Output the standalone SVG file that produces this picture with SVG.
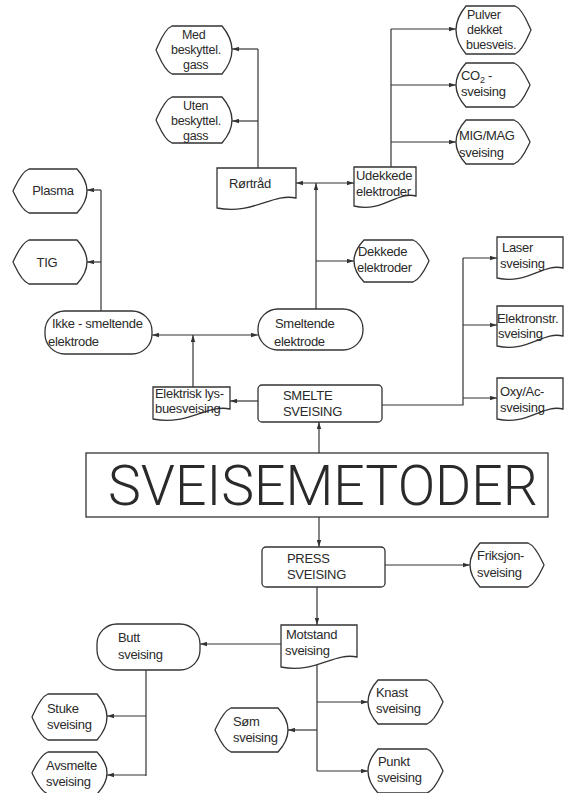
<svg xmlns="http://www.w3.org/2000/svg" width="568" height="793" viewBox="0 0 568 793">
<style>
.s{fill:#fff;stroke:#333;stroke-width:1.3}
.t{font-family:"Liberation Sans",Arial,sans-serif;font-size:13px;fill:#2a2a2a;letter-spacing:-0.3px}
.t3{font-family:"Liberation Sans",Arial,sans-serif;font-size:12.5px;fill:#2a2a2a;letter-spacing:-0.3px}
.c{fill:none;stroke:#333;stroke-width:1.2}
.big{font-family:Roboto,"Liberation Sans",sans-serif;font-weight:300;font-size:56px;fill:#2a2a2a}
</style>
<defs>
<marker id="ah" viewBox="0 0 7 5" refX="7" refY="2.5" markerWidth="7" markerHeight="5" markerUnits="userSpaceOnUse" orient="auto-start-reverse"><path d="M0,0.3 L7,2.5 L0,4.7 Z" fill="#333"/></marker>
</defs>
<rect width="568" height="793" fill="#fff"/>
<g id="connectors">
<path class="c" d="M258,168 V49"/>
<path class="c" d="M258,49 H232" marker-end="url(#ah)"/>
<path class="c" d="M258,121 H232" marker-end="url(#ah)"/>
<path class="c" d="M296,183 H354" marker-start="url(#ah)" marker-end="url(#ah)"/>
<path class="c" d="M316,309 V183" marker-end="url(#ah)"/>
<path class="c" d="M316,261 H354" marker-end="url(#ah)"/>
<path class="c" d="M391,167 V29"/>
<path class="c" d="M391,29 H456" marker-end="url(#ah)"/>
<path class="c" d="M391,85 H456" marker-end="url(#ah)"/>
<path class="c" d="M391,142 H456" marker-end="url(#ah)"/>
<path class="c" d="M101,311 V190"/>
<path class="c" d="M101,190 H87" marker-end="url(#ah)"/>
<path class="c" d="M101,262 H87" marker-end="url(#ah)"/>
<path class="c" d="M152,335 H258" marker-start="url(#ah)" marker-end="url(#ah)"/>
<path class="c" d="M193,387 V335" marker-end="url(#ah)"/>
<path class="c" d="M258,401 H230" marker-end="url(#ah)"/>
<path class="c" d="M319,453 V422" marker-end="url(#ah)"/>
<path class="c" d="M382,405 H463 V258"/>
<path class="c" d="M463,258 H497" marker-end="url(#ah)"/>
<path class="c" d="M463,325 H497" marker-end="url(#ah)"/>
<path class="c" d="M463,398 H497" marker-end="url(#ah)"/>
<path class="c" d="M319,517 V547" marker-end="url(#ah)"/>
<path class="c" d="M385,565 H470" marker-end="url(#ah)"/>
<path class="c" d="M317,587 V625" marker-end="url(#ah)"/>
<path class="c" d="M281,644 H200" marker-end="url(#ah)"/>
<path class="c" d="M146,670 V776"/>
<path class="c" d="M146,716 H107" marker-end="url(#ah)"/>
<path class="c" d="M146,775 H107" marker-end="url(#ah)"/>
<path class="c" d="M317,664 V771"/>
<path class="c" d="M317,702 H368" marker-end="url(#ah)"/>
<path class="c" d="M317,730 H288" marker-end="url(#ah)"/>
<path class="c" d="M317,771 H368" marker-end="url(#ah)"/>
</g>
<g id="med">
<path class="s" d="M172,26 H222 Q242,50 222,74 H172 C164,71 159,56 156,50 C159,44 164,29 172,26 Z"/>
<text class="t3" x="182" y="39">Med</text><text class="t3" x="171" y="54">beskyttel.</text><text class="t3" x="183" y="69">gass</text>
</g>
<g id="uten">
<path class="s" d="M172,97 H222 Q242,120 222,143 H172 C164,140 159,126 156,120 C159,114 164,100 172,97 Z"/>
<text class="t3" x="183" y="110">Uten</text><text class="t3" x="171" y="125">beskyttel.</text><text class="t3" x="183" y="140">gass</text>
</g>
<g id="rortrad">
<path class="s" d="M217,168 H296 V198 C272,193 253,215 217,208 Z"/>
<text class="t" x="229" y="188">Rørtråd</text>
</g>
<g id="udekkede">
<path class="s" d="M354,167 H416 V196 C397,191 382,213 354,206 Z"/>
<text class="t" x="356" y="180">Udekkede</text><text class="t" x="356" y="196">elektroder</text>
</g>
<g id="pulver">
<path class="s" d="M466,6 H515 C523,9 528,24 531,30 C528,36 523,51 515,54 H466 Q446,30 466,6 Z"/>
<text class="t3" x="467" y="19">Pulver</text><text class="t3" x="467" y="34">dekket</text><text class="t3" x="466" y="49">buesveis.</text>
</g>
<g id="co2">
<path class="s" d="M466,63 H514 C522,66 527,79 530,85 C527,91 522,104 514,107 H466 Q446,85 466,63 Z"/>
<text class="t" x="461" y="80">CO<tspan font-size="9" dy="3">2</tspan><tspan dy="-3"> -</tspan></text><text class="t" x="461" y="96">sveising</text>
</g>
<g id="mig">
<path class="s" d="M466,120 H514 C522,123 527,136 530,142 C527,148 522,161 514,164 H466 Q446,142 466,120 Z"/>
<text class="t" x="459" y="140">MIG/MAG</text><text class="t" x="459" y="157">sveising</text>
</g>
<g id="plasma">
<path class="s" d="M29,169 H77 Q97,191 77,213 H29 C21,210 16,197 13,191 C16,185 21,172 29,169 Z"/>
<text class="t" x="53" y="195" text-anchor="middle">Plasma</text>
</g>
<g id="tig">
<path class="s" d="M29,240 H77 Q97,262 77,284 H29 C21,281 16,268 13,262 C16,256 21,243 29,240 Z"/>
<text class="t" x="47" y="267" text-anchor="middle">TIG</text>
</g>
<g id="dekkede">
<path class="s" d="M364,240 H413 C421,243 426,255 429,261 C426,267 421,279 413,282 H364 Q344,261 364,240 Z"/>
<text class="t" x="358" y="256">Dekkede</text><text class="t" x="357" y="272">elektroder</text>
</g>
<g id="ikke">
<rect class="s" x="45" y="311" width="107" height="43" rx="20"/>
<text class="t" x="52" y="328">Ikke - smeltende</text><text class="t" x="48" y="346">elektrode</text>
</g>
<g id="smeltende">
<rect class="s" x="258" y="309" width="105" height="41" rx="20"/>
<text class="t" x="275" y="328">Smeltende</text><text class="t" x="274" y="346">elektrode</text>
</g>
<g id="laser">
<path class="s" d="M497,237 H563 V268 C543,263 527,285 497,278 Z"/>
<text class="t" x="502" y="252">Laser</text><text class="t" x="500" y="268">sveising</text>
</g>
<g id="elektronstr">
<path class="s" d="M497,306 H563 V336 C543,331 527,353 497,346 Z"/>
<text class="t" x="497" y="323">Elektronstr.</text><text class="t" x="498" y="338">sveising</text>
</g>
<g id="oxy">
<path class="s" d="M497,378 H563 V409 C543,404 527,426 497,419 Z"/>
<text class="t" x="500" y="396">Oxy/Ac-</text><text class="t" x="500" y="412">sveising</text>
</g>
<g id="smelte">
<rect class="s" x="258" y="385" width="124" height="37" rx="4"/>
<text class="t" x="283" y="400">SMELTE</text><text class="t" x="283" y="416">SVEISING</text>
</g>
<g id="elektrisk">
<path class="s" d="M153,387 H230 V409 C207,404 188,426 153,419 Z"/>
<text class="t" x="155" y="398">Elektrisk lys-</text><text class="t" x="155" y="413">buesveising</text>
</g>
<g id="sveisemetoder">
<rect class="s" x="86" y="453" width="462" height="64"/>
<text class="big" x="108" y="505" textLength="430" lengthAdjust="spacingAndGlyphs">SVEISEMETODER</text>
</g>
<g id="press">
<rect class="s" x="262" y="547" width="123" height="40" rx="4"/>
<text class="t" x="287" y="563">PRESS</text><text class="t" x="287" y="579">SVEISING</text>
</g>
<g id="friksjon">
<path class="s" d="M480,543 H528 C536,546 541,559 544,565 C541,571 536,584 528,587 H480 Q460,565 480,543 Z"/>
<text class="t" x="477" y="560">Friksjon-</text><text class="t" x="477" y="577">sveising</text>
</g>
<g id="motstand">
<path class="s" d="M281,625 H357 V657 C334,652 315,674 281,667 Z"/>
<text class="t" x="286" y="639">Motstand</text><text class="t" x="285" y="655">sveising</text>
</g>
<g id="butt">
<rect class="s" x="97" y="624" width="103" height="46" rx="20"/>
<text class="t" x="118" y="642">Butt</text><text class="t" x="118" y="659">sveising</text>
</g>
<g id="stuke">
<path class="s" d="M48,694 H97 Q117,717 97,740 H48 C40,737 35,723 32,717 C35,711 40,697 48,694 Z"/>
<text class="t" x="47" y="713">Stuke</text><text class="t" x="47" y="729">sveising</text>
</g>
<g id="avsmelte">
<path class="s" d="M48,752 H97 Q117,773 97,794 H48 C40,791 35,779 32,773 C35,767 40,755 48,752 Z"/>
<text class="t" x="46" y="770">Avsmelte</text><text class="t" x="46" y="786">sveising</text>
</g>
<g id="som">
<path class="s" d="M231,708 H278 Q298,730 278,752 H231 C223,749 218,736 215,730 C218,724 223,711 231,708 Z"/>
<text class="t" x="233" y="726">Søm</text><text class="t" x="233" y="742">sveising</text>
</g>
<g id="knast">
<path class="s" d="M378,680 H427 C435,683 440,696 443,702 C440,708 435,721 427,724 H378 Q358,702 378,680 Z"/>
<text class="t" x="376" y="697">Knast</text><text class="t" x="376" y="713">sveising</text>
</g>
<g id="punkt">
<path class="s" d="M378,749 H427 C435,752 440,765 443,771 C440,777 435,790 427,793 H378 Q358,771 378,749 Z"/>
<text class="t" x="378" y="766">Punkt</text><text class="t" x="377" y="782">sveising</text>
</g>
</svg>
